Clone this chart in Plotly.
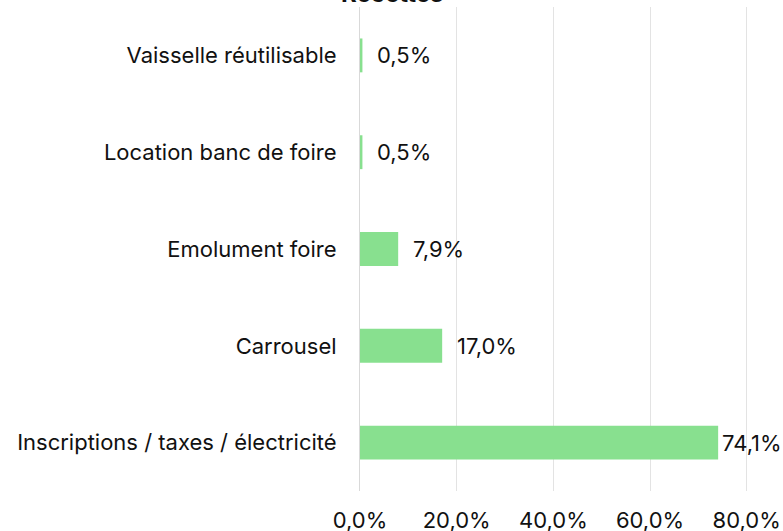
import plotly.graph_objects as go

categories = ["Inscriptions / taxes / électricité", "Carrousel", "Emolument foire",
              "Location banc de foire", "Vaisselle réutilisable"]
values = [0.741, 0.170, 0.079, 0.005, 0.005]
value_labels = ["74,1%", "17,0%", "7,9%", "0,5%", "0,5%"]
tick_vals = [0, 0.2, 0.4, 0.6, 0.8]
tick_text = ["0,0%", "20,0%", "40,0%", "60,0%", "80,0%"]
title = "Recettes"

FONT = "Inter, Open Sans, sans-serif"
FS = 22
XMAX = 0.84

fig = go.Figure(go.Bar(
    x=values, y=categories, orientation="h",
    marker=dict(color="#88E08F", line=dict(width=0)),
    hoverinfo="skip",
))

for v, c, t in zip(values, categories, value_labels):
    shift = 2 if v > 0.7 else 13
    fig.add_annotation(x=v, y=c, text=t, showarrow=False, xanchor="left",
                       xshift=shift, font=dict(size=FS, color="#111111", family=FONT))

L, R, T, B = 360, 17, 7, 40
W, H = 783, 531
pw = W - L - R
ph = H - T - B
fig.add_annotation(x=(W / 2 - L) / pw, xref="paper", y=1 + (T + 6) / ph, yref="paper",
                   text="<b>" + title + "</b>",
                   showarrow=False, yanchor="middle", xanchor="center",
                   font=dict(size=24, color="#111111", family=FONT))

fig.update_layout(
    width=W, height=H,
    margin=dict(l=L, r=R, t=T, b=B, autoexpand=False),
    paper_bgcolor="white", plot_bgcolor="white",
    bargap=0.65, showlegend=False,
    font=dict(family=FONT, size=FS, color="#111111"),
)
fig.update_xaxes(range=[0, XMAX], tickvals=tick_vals, ticktext=tick_text,
                 showgrid=True, gridcolor="#e3e3e3", gridwidth=1,
                 zeroline=False, showline=False, ticks="", automargin=False,
                 ticklabelstandoff=14, tickfont=dict(size=FS, family=FONT))
fig.update_yaxes(showgrid=False, zeroline=False, showline=True, linecolor="#d9d9d9",
                 linewidth=1, ticks="", ticklabelstandoff=18, automargin=False,
                 tickfont=dict(size=FS, family=FONT))

fig.write_html("out.html", config={"displayModeBar": False},
               post_script="document.body.style.margin='0';document.body.style.overflow='hidden';")
